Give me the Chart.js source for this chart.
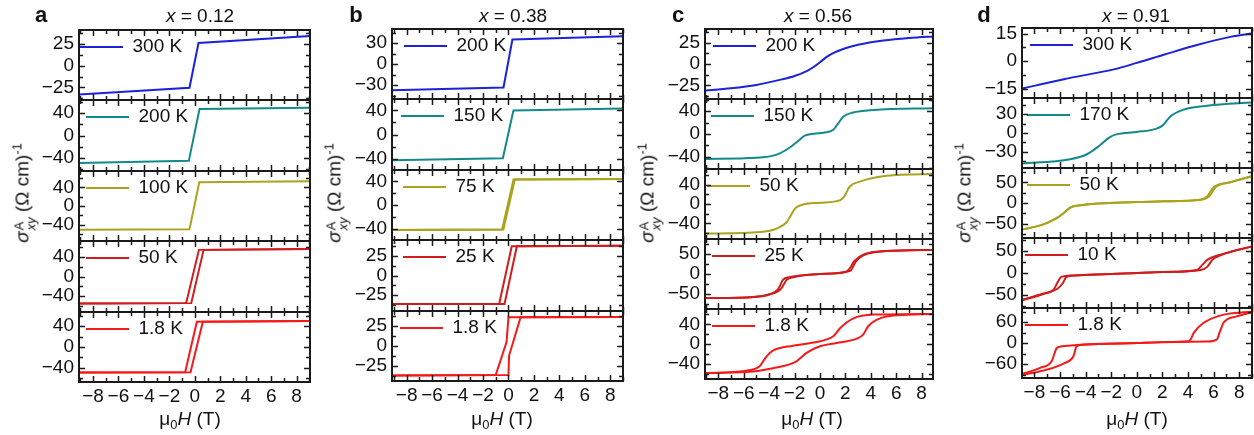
<!DOCTYPE html>
<html>
<head>
<meta charset="utf-8">
<script src="https://cdn.jsdelivr.net/npm/chart.js@4.4.1/dist/chart.umd.min.js"></script>
<style>
html,body{margin:0;padding:0;background:#fff;}
#fig{position:relative;width:1254px;height:435px;overflow:hidden;background:#fff;
  font-family:"Liberation Sans",Arial,Helvetica,sans-serif;color:#111;}
.pan{position:absolute;}
.pan canvas{display:block;}
.txt{position:absolute;white-space:nowrap;font-size:19px;line-height:1;transform:translate(-50%,-50%);}
.let{font-weight:bold;font-size:22px;}
.yt{transform:translate(-50%,-50%) rotate(-90deg);}
.ss{display:inline-flex;flex-direction:column;vertical-align:0.42em;font-size:0.68em;line-height:0.95;margin-left:1px;}
sub,sup{font-size:0.68em;line-height:0;}
</style>
</head>
<body>
<div id="fig"></div>
<script>
// ================= DATA (field H in T, sigma_xy^A in (Ohm cm)^-1) =================
// ---- column a : x = 0.12 ----
const H_a300 = [-9.2, -0.42, 0.29, 9.2];
const S_a300 = [-33.2, -25.3, 26.5, 34.6];
const H_a200 = [-9.2, -0.47, 0.37, 9.2];
const S_a200 = [-49, -45, 47, 49.5];
const H_a100 = [-9.2, -0.42, 0.35, 9.2];
const S_a100 = [-51, -50, 51, 53];
const H_a50_dn = [-9.2, -0.68, 0.32, 9.2];
const H_a50_up = [-9.2, -0.28, 0.69, 9.2];
const S_a50 = [-55, -54, 54, 56];
const H_a2_dn = [-9.2, -0.76, 0.16, 9.2];
const H_a2_up = [-9.2, -0.34, 0.63, 9.2];
const S_a2 = [-49, -48.5, 48.5, 50];
// ---- column b : x = 0.38 ----
const H_b200 = [-9.2, -0.39, 0.31, 9.2];
const S_b200 = [-37.6, -33.6, 35, 39.8];
const H_b150 = [-9.2, -0.44, 0.39, 9.2];
const S_b150 = [-43, -39.5, 40, 43.4];
const H_b75_dn = [-9.2, -0.5, 0.4, 9.2];
const H_b75_up = [-9.2, -0.4, 0.5, 9.2];
const S_b75 = [-42, -41.5, 43, 44];
const H_b25_dn = [-9.2, -0.73, 0.26, 9.2];
const H_b25_up = [-9.2, -0.31, 0.66, 9.2];
const S_b25 = [-36, -36, 37, 37.6];
const H_b2_dn = [-9.2, -1.0, -0.15, 0.0, 9.2];
const S_b2_dn = [-37, -36.5, 5, 36, 36.5];
const H_b2_up = [-9.2, 0.0, 0.05, 0.95, 9.2];
const S_b2_up = [-37, -36.5, -12, 36, 36.5];
// ---- column c : x = 0.56 ----
const H_c200 = [-9.2, -7, -5, -3, -2, -1, -0.5, 0, 0.5, 1, 2, 3, 5, 7, 9.2];
const S_c200 = [-31.5, -28.5, -24.5, -18, -14, -8, -3.5, 2, 8, 12.5, 18.5, 22.5, 27.5, 30.5, 32.5];
const H_c150 = [-9.2, -5, -3.4, -2.4, -1.6, -1.2, -0.5, 0.5, 1.05, 1.45, 1.85, 2.6, 4.2, 9.2];
const S_c150 = [-43.5, -41.5, -36, -24, -10, -3, 0.5, 3, 7.5, 19, 30.5, 37.5, 42, 45];
const H_c50 = [-9.2, -4.7, -3.4, -2.6, -2.35, -1.95, -1.45, 0, 1.6, 1.9, 2.35, 3.15, 5.25, 9.2];
const S_c50 = [-61, -57.5, -50.5, -37, -26, -9, -2, 2.5, 8, 15, 36, 46, 58, 62];
const H_c25_dn = [-9.2, -5.2, -4, -3.3, -2.9, -2.4, 0, 2.0, 2.3, 2.7, 3.5, 5.2, 9.2];
const S_c25_dn = [-60, -57, -51, -38, -14, -8, 0, 5, 12, 32, 49, 57, 60];
const H_c25_up = [-9.2, -5.2, -4, -3.1, -2.6, -2.1, 0, 2.4, 2.8, 3.1, 3.7, 5.2, 9.2];
const S_c25_up = [-60, -57, -51, -38, -14, -8, 0, 8, 30, 40, 50, 57, 60];
const H_c2_dn = [-9.2, -5.8, -4.75, -4.2, -3.7, -2.1, 0, 1.05, 1.6, 2.6, 4.2, 9.2];
const S_c2_dn = [-59, -54, -45, -25, -13.5, -3.4, 5.4, 15.6, 32.5, 51.5, 59.6, 61];
const H_c2_up = [-9.2, -5.8, -3.7, -1.85, -1.05, 0, 1.3, 2.9, 3.4, 3.8, 4.5, 5.25, 9.2];
const S_c2_up = [-59, -57, -49, -35, -18, -4.7, 2, 10.8, 19, 36, 49.4, 56, 61];
// ---- column d : x = 0.91 ----
const H_d300 = [-9.2, -5.7, -1.8, 0, 2.1, 4.7, 7.3, 9.2];
const S_d300 = [-15.2, -9.7, -4.4, -0.9, 3.5, 8.8, 13.2, 15.3];
const H_d170 = [-9.2, -5.2, -3.9, -2.9, -2.1, -1.6, 0, 1.55, 2.05, 2.6, 3.6, 5.5, 9.2];
const S_d170 = [-49, -42, -34, -20, -6.5, -2.2, 1.6, 7, 12.6, 26, 37, 43.7, 49];
const H_d50_dn = [-9.2, -7.3, -6.3, -5.75, -5.2, -4.4, 0, 2.1, 4.9, 5.45, 6.0, 7.3, 9.2];
const H_d50_up = [-9.2, -7.3, -6.3, -5.75, -5.2, -4.4, 0, 2.1, 5.05, 5.6, 6.15, 7.3, 9.2];
const S_d50 = [-66, -52, -37.5, -25.5, -11, -5.5, 2.3, 4, 8, 14.4, 38.5, 50.5, 67];
const H_d10_dn = [-9.2, -7.3, -6.5, -6.2, -5.9, -5.0, 0, 2, 4.7, 5.1, 5.5, 6.3, 7.3, 9.2];
const S_d10_dn = [-64, -48, -38, -22, -9, -5.5, 0, 2.3, 7, 18, 30, 40, 48, 62];
const H_d10_up = [-9.2, -7.3, -6.2, -5.8, -5.5, -4.8, 0, 2, 5.0, 5.5, 5.9, 6.6, 7.3, 9.2];
const S_d10_up = [-64, -47, -36, -24, -9, -5.5, 0, 2.3, 7, 14, 30, 41, 48, 62];
const H_d2_dn = [-9.2, -7.55, -6.65, -6.25, -5.85, -4.4, 0, 2, 4.0, 4.2, 4.45, 5.2, 6.8, 9.2];
const S_d2_dn = [-91, -71, -52, -14, -9.5, -4.8, 0, 2.5, 5, 10, 29, 57, 81, 90];
const H_d2_up = [-9.2, -8.2, -5.6, -4.95, -4.7, -4.2, 0, 2, 5.5, 6.24, 6.5, 6.76, 7.8, 9.2];
const S_d2_up = [-91, -86, -57, -38, -9.5, -4.8, 0, 2, 4, 9.5, 33, 57, 76, 89];

// ---- tick labels ----
const X_TICKS = [-8, -6, -4, -2, 0, 2, 4, 6, 8];
const YT15 = [-15, 0, 15];
const YT25 = [-25, 0, 25];
const YT30 = [-30, 0, 30];
const YT40 = [-40, 0, 40];
const YT50 = [-50, 0, 50];
const YT60 = [-60, 0, 60];

// ---- categories / labels ----
const COMPOSITIONS = ['0.12', '0.38', '0.56', '0.91'];
const LETTERS = ['a', 'b', 'c', 'd'];
const TEMPS = [
  ['300 K', '200 K', '100 K', '50 K', '1.8 K'],
  ['200 K', '150 K', '75 K', '25 K', '1.8 K'],
  ['200 K', '150 K', '50 K', '25 K', '1.8 K'],
  ['300 K', '170 K', '50 K', '10 K', '1.8 K']
];

// ================= STYLE / LAYOUT =================
const BLUE = '#1b22d8', TEAL = '#14898b', OLIVE = '#aba21e', RED2 = '#d01c1c', RED1 = '#f41a1a';
const ROW_COLORS = [BLUE, TEAL, OLIVE, RED2, RED1];

const PANELS = [
  [ {s:[[H_a300,S_a300]], y:[-39.5,41.5], t:YT25, smooth:false},
    {s:[[H_a200,S_a200]], y:[-63,63], t:YT40, smooth:false},
    {s:[[H_a100,S_a100]], y:[-75,75], t:YT40, smooth:false},
    {s:[[H_a50_up,S_a50],[H_a50_dn,S_a50]], y:[-72,72], t:YT40, smooth:false},
    {s:[[H_a2_up,S_a2],[H_a2_dn,S_a2]], y:[-67,67], t:YT40, smooth:false} ],
  [ {s:[[H_b200,S_b200]], y:[-50,50], t:YT30, smooth:false},
    {s:[[H_b150,S_b150]], y:[-59,59], t:YT40, smooth:false},
    {s:[[H_b75_up,S_b75],[H_b75_dn,S_b75]], y:[-59,59], t:YT40, smooth:false},
    {s:[[H_b25_up,S_b25],[H_b25_dn,S_b25]], y:[-45,45], t:YT25, smooth:false},
    {s:[[H_b2_up,S_b2_up],[H_b2_dn,S_b2_dn]], y:[-44,44], t:YT25, smooth:false} ],
  [ {s:[[H_c200,S_c200]], y:[-41,41], t:YT25, smooth:true},
    {s:[[H_c150,S_c150]], y:[-61,61], t:YT40, smooth:true},
    {s:[[H_c50,S_c50]], y:[-72,72], t:YT40, smooth:true},
    {s:[[H_c25_up,S_c25_up],[H_c25_dn,S_c25_dn]], y:[-87,87], t:YT50, smooth:true},
    {s:[[H_c2_up,S_c2_up],[H_c2_dn,S_c2_dn]], y:[-71,71], t:YT40, smooth:true} ],
  [ {s:[[H_d300,S_d300]], y:[-19.9,18], t:YT15, smooth:true},
    {s:[[H_d170,S_d170]], y:[-56,56], t:YT30, smooth:true},
    {s:[[H_d50_up,S_d50],[H_d50_dn,S_d50]], y:[-85,85], t:YT50, smooth:true},
    {s:[[H_d10_up,S_d10_up],[H_d10_dn,S_d10_dn]], y:[-80,80], t:YT50, smooth:true},
    {s:[[H_d2_up,S_d2_up],[H_d2_dn,S_d2_dn]], y:[-100,100], t:YT60, smooth:true} ]
];

const COLS = [
  {left:79,  right:310,  top:30, bottom:382, xmin:-9.1,  xmax:9.05, lx:[1,7,7,7,7],
   letter:[41,15], title:[200,15], xt:[190,418], yt:[25,193]},
  {left:392, right:623,  top:29, bottom:381, xmin:-9.15, xmax:9.0,  lx:[12,9,11,11,8],
   letter:[356,15], title:[513,15], xt:[502,418], yt:[337,193]},
  {left:705, right:933,  top:29, bottom:379, xmin:-9.05, xmax:8.9,  lx:[8,6,2,7,7],
   letter:[678,15], title:[818,15], xt:[812,418], yt:[650,193]},
  {left:1022,right:1252, top:28, bottom:378, xmin:-8.97, xmax:9.0,  lx:[8,5,5,3,3],
   letter:[984,15], title:[1136,15], xt:[1137,418], yt:[967,193]}
];

const FONT = '"Liberation Sans", Arial, Helvetica, sans-serif';
Chart.defaults.font.family = FONT;
Chart.defaults.font.size = 19;
Chart.defaults.color = '#111';
Chart.defaults.animation = false;

const minusFmt = v => String(v).replace('-', '\u2212');

// frame, inward ticks on all four sides, and legend placement inside the plot area
const frameTicks = {
  id: 'frameTicks',
  afterLayout(chart) {
    const o = chart.options.plugins.frameTicks;
    const lg = chart.legend;
    if (!lg) return;
    const ca = chart.chartArea;
    const w = lg.width, h = lg.height;
    lg.left = ca.left + o.legendDx - 2;
    lg.top = ca.top + o.legendDy;
    lg.right = lg.left + w;
    lg.bottom = lg.top + h;
  },
  afterDraw(chart) {
    const o = chart.options.plugins.frameTicks;
    const {ctx, chartArea: a} = chart;
    const xs = chart.scales.x, ys = chart.scales.y;
    ctx.save();
    ctx.strokeStyle = '#1a1a1a';
    ctx.lineWidth = 1.5;
    ctx.beginPath();
    for (let v = Math.ceil(xs.min); v <= Math.floor(xs.max); v++) {
      const px = Math.round(xs.getPixelForValue(v)) + 0.5;
      const L = (v % 2 === 0) ? 6 : 4;
      ctx.moveTo(px, a.bottom); ctx.lineTo(px, a.bottom - L);
      ctx.moveTo(px, a.top); ctx.lineTo(px, a.top + L);
    }
    const st = o.yMinor;
    for (let k = Math.ceil(ys.min / st); k * st <= ys.max; k++) {
      const py = Math.round(ys.getPixelForValue(k * st)) + 0.5;
      const L = (k % 2 === 0) ? 6 : 4;
      ctx.moveTo(a.left, py); ctx.lineTo(a.left + L, py);
      ctx.moveTo(a.right, py); ctx.lineTo(a.right - L, py);
    }
    ctx.stroke();
    ctx.lineWidth = 2;
    ctx.strokeRect(a.left, a.top, a.right - a.left, a.bottom - a.top);
    ctx.restore();
  }
};

const fig = document.getElementById('fig');
function addText(html, x, y, cls) {
  const d = document.createElement('div');
  d.className = 'txt ' + (cls || '');
  d.innerHTML = html;
  d.style.left = x + 'px'; d.style.top = y + 'px';
  fig.appendChild(d);
}

const YW = 70, PADT = 22, PADB = 22, PADR = 4, XH = 30;

COLS.forEach((col, ci) => {
  const n = 5;
  const hStep = (col.bottom - col.top) / n;
  const W = col.right - col.left;
  PANELS[ci].forEach((p, ri) => {
    const top = Math.round(col.top + ri * hStep);
    const bot = Math.round(col.top + (ri + 1) * hStep);
    const H = bot - top;
    const isBottom = ri === n - 1;
    const cw = YW + W + PADR;
    const ch = PADT + H + PADB + (isBottom ? XH : 0);
    const div = document.createElement('div');
    div.className = 'pan';
    div.style.left = (col.left - YW) + 'px';
    div.style.top = (top - PADT) + 'px';
    div.style.width = cw + 'px';
    div.style.height = ch + 'px';
    const cv = document.createElement('canvas');
    cv.width = cw; cv.height = ch;
    cv.style.width = cw + 'px'; cv.style.height = ch + 'px';
    div.appendChild(cv);
    fig.appendChild(div);

    const color = ROW_COLORS[ri];
    const datasets = p.s.map((pair, k) => ({
      label: TEMPS[ci][ri],
      data: pair[0].map((h, i) => ({x: h, y: pair[1][i]})),
      borderColor: color,
      backgroundColor: color,
      borderWidth: 2,
      pointRadius: 0,
      fill: false,
      tension: 0,
      cubicInterpolationMode: p.smooth ? 'monotone' : 'default'
    }));

    new Chart(cv, {
      type: 'line',
      data: {datasets},
      options: {
        responsive: false,
        maintainAspectRatio: false,
        devicePixelRatio: 1,
        animation: false,
        events: [],
        layout: {padding: {left: 0, right: PADR, top: PADT, bottom: PADB}},
        scales: {
          x: {
            type: 'linear',
            display: isBottom,
            min: col.xmin, max: col.xmax,
            grid: {display: false, drawTicks: false},
            border: {display: false},
            afterBuildTicks: s => { s.ticks = X_TICKS.map(v => ({value: v})); },
            afterFit: s => { s.height = isBottom ? XH : 0; },
            ticks: {padding: 3, autoSkip: false, maxRotation: 0, color: '#111',
                    font: {size: 19}, callback: v => minusFmt(v)}
          },
          y: {
            type: 'linear',
            min: p.y[0], max: p.y[1],
            grid: {display: false, drawTicks: false},
            border: {display: false},
            afterBuildTicks: s => { s.ticks = p.t.map(v => ({value: v})); },
            afterFit: s => { s.width = YW; },
            ticks: {padding: 5, color: '#111', font: {size: 19}, callback: v => minusFmt(v)}
          }
        },
        plugins: {
          tooltip: {enabled: false},
          legend: {
            display: true,
            position: 'chartArea',
            align: 'start',
            labels: {
              usePointStyle: true,
              pointStyle: 'line',
              pointStyleWidth: 43,
              boxHeight: 19,
              padding: 2,
              color: '#111',
              font: {size: 19},
              filter: item => item.datasetIndex === 0
            }
          },
          frameTicks: {yMinor: p.t[2] / 2, legendDx: col.lx[ri], legendDy: 5.5}
        }
      },
      plugins: [frameTicks]
    });
  });

  addText(LETTERS[ci], col.letter[0], col.letter[1], 'let');
  addText('<i>x</i> = ' + COMPOSITIONS[ci], col.title[0], col.title[1]);
  addText('\u03bc<sub>0</sub><i>H</i> (T)', col.xt[0], col.xt[1]);
  addText('<i>\u03c3</i><span class="ss"><span>A</span><span><i>xy</i></span></span> (\u03a9 cm)<sup>-1</sup>',
          col.yt[0], col.yt[1], 'yt');
});
</script>
</body>
</html>
